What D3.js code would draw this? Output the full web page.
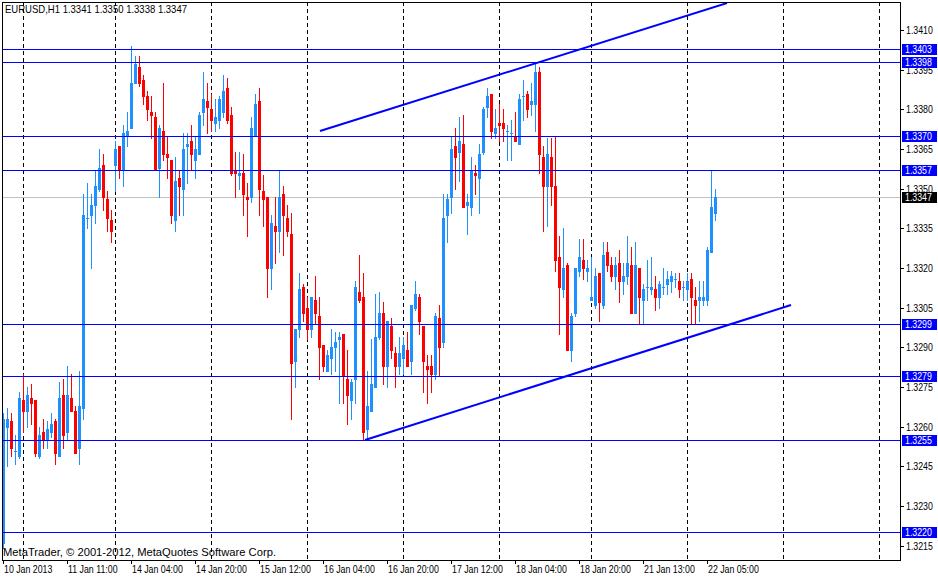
<!DOCTYPE html>
<html><head><meta charset="utf-8">
<script src="https://cdn.jsdelivr.net/npm/d3@7"></script>
<style>
body{margin:0;background:#fff}
svg{display:block}
text{font-family:"Liberation Sans",Arial,sans-serif;font-size:11px}
</style>
</head><body>
<svg id="c" width="938" height="577"></svg>
<script>
const symbolTitle = "EURUSD,H1  1.3341 1.3350 1.3338 1.3347";
const copyright = "MetaTrader, \u00a9 2001-2012, MetaQuotes Software Corp.";

const opens = [1.3216,1.3260,1.3262,1.3251,1.3249,1.3270,1.3266,1.3271,1.3270,1.3249,
1.3258,1.3255,1.3258,1.3262,1.3249,1.3272,1.3258,1.3271,1.3266,1.3252,
1.3267,1.3339,1.3340,1.3344,1.3350,1.3359,1.3346,1.3338,1.3359,1.3366,
1.3357,1.3370,1.3373,1.3390,1.3396,1.3391,1.3385,1.3379,1.3377,1.3358,
1.3372,1.3363,1.3361,1.3338,1.3354,1.3350,1.3366,1.3368,1.3361,1.3363,
1.3379,1.3383,1.3380,1.3375,1.3376,1.3379,1.3388,1.3378,1.3357,1.3355,
1.3356,1.3347,1.3347,1.3370,1.3383,1.3349,1.3347,1.3320,1.3336,1.3334,
1.3348,1.3339,1.3333,1.3285,1.3297,1.3313,1.3305,1.3297,1.3308,1.3302,
1.3291,1.3281,1.3286,1.3290,1.3293,1.3295,1.3278,1.3270,1.3278,1.3311,
1.3309,1.3259,1.3266,1.3275,1.3294,1.3303,1.3283,1.3298,1.3288,1.3283,
1.3286,1.3289,1.3285,1.3305,1.3309,1.3298,1.3283,1.3283,1.3280,1.3301,
1.3292,1.3340,1.3347,1.3366,1.3364,1.3367,1.3344,1.3343,1.3356,1.3354,
1.3364,1.3381,1.3386,1.3371,1.3375,1.3375,1.3372,1.3371,1.3370,1.3367,
1.3385,1.3386,1.3382,1.3382,1.3394,1.3362,1.3351,1.3362,1.3351,1.3324,
1.3312,1.3321,1.3289,1.3303,1.3319,1.3323,1.3319,1.3308,1.3306,1.3318,
1.3306,1.3326,1.3321,1.3317,1.3322,1.3315,1.3317,1.3321,1.3303,1.3320,
1.3308,1.3313,1.3312,1.3312,1.3309,1.3313,1.3314,1.3315,1.3316,1.3315,
1.3313,1.3312,1.3316,1.3308,1.3308,1.3308,1.3308,1.3326,1.3341];

const highs = [1.3265,1.3267,1.3265,1.3257,1.3273,1.3280,1.3275,1.3276,1.3270,1.3260,
1.3263,1.3262,1.3265,1.3263,1.3277,1.3278,1.3283,1.3280,1.3268,1.3281,
1.3348,1.3352,1.3348,1.3357,1.3365,1.3363,1.3349,1.3342,1.3368,1.3366,
1.3374,1.3379,1.3404,1.3400,1.3400,1.3393,1.3387,1.3385,1.3379,1.3374,
1.3390,1.3370,1.3361,1.3362,1.3357,1.3371,1.3371,1.3374,1.3370,1.3379,
1.3394,1.3390,1.3386,1.3384,1.3385,1.3393,1.3392,1.3381,1.3364,1.3364,
1.3363,1.3352,1.3377,1.3386,1.3388,1.3355,1.3347,1.3340,1.3347,1.3357,
1.3351,1.3344,1.3341,1.3297,1.3318,1.3314,1.3309,1.3309,1.3317,1.3309,
1.3291,1.3289,1.3297,1.3296,1.3296,1.3295,1.3289,1.3278,1.3315,1.3325,
1.3318,1.3281,1.3293,1.3310,1.3311,1.3307,1.3300,1.3301,1.3290,1.3294,
1.3294,1.3296,1.3306,1.3315,1.3310,1.3298,1.3287,1.3287,1.3303,1.3306,
1.3348,1.3348,1.3370,1.3373,1.3377,1.3378,1.3348,1.3362,1.3359,1.3367,
1.3381,1.3388,1.3386,1.3380,1.3382,1.3380,1.3374,1.3376,1.3379,1.3386,
1.3391,1.3387,1.3390,1.3397,1.3396,1.3366,1.3369,1.3369,1.3370,1.3332,
1.3335,1.3322,1.3303,1.3320,1.3331,1.3331,1.3323,1.3324,1.3320,1.3318,
1.3330,1.3330,1.3324,1.3324,1.3327,1.3322,1.3332,1.3328,1.3330,1.3320,
1.3314,1.3323,1.3324,1.3317,1.3315,1.3320,1.3319,1.3319,1.3318,1.3318,
1.3315,1.3318,1.3318,1.3313,1.3315,1.3315,1.3328,1.3357,1.3350];

const lows = [1.3214,1.3245,1.3249,1.3246,1.3248,1.3258,1.3260,1.3261,1.3249,1.3248,
1.3252,1.3252,1.3256,1.3246,1.3249,1.3252,1.3255,1.3266,1.3250,1.3246,
1.3263,1.3335,1.3320,1.3337,1.3349,1.3342,1.3334,1.3330,1.3349,1.3354,
1.3351,1.3366,1.3373,1.3390,1.3389,1.3382,1.3376,1.3369,1.3357,1.3347,
1.3361,1.3354,1.3337,1.3334,1.3340,1.3340,1.3352,1.3357,1.3354,1.3363,
1.3374,1.3371,1.3372,1.3372,1.3373,1.3377,1.3375,1.3355,1.3347,1.3350,
1.3340,1.3332,1.3345,1.3370,1.3340,1.3336,1.3309,1.3312,1.3322,1.3326,
1.3325,1.3332,1.3263,1.3275,1.3294,1.3300,1.3293,1.3294,1.3299,1.3278,
1.3281,1.3281,1.3280,1.3281,1.3269,1.3269,1.3261,1.3263,1.3269,1.3307,
1.3255,1.3255,1.3266,1.3275,1.3293,1.3276,1.3275,1.3286,1.3275,1.3280,
1.3280,1.3283,1.3280,1.3304,1.3295,1.3273,1.3269,1.3273,1.3278,1.3279,
1.3290,1.3330,1.3341,1.3350,1.3353,1.3343,1.3333,1.3340,1.3348,1.3341,
1.3363,1.3377,1.3369,1.3369,1.3368,1.3368,1.3361,1.3361,1.3368,1.3367,
1.3376,1.3377,1.3378,1.3372,1.3356,1.3334,1.3336,1.3344,1.3319,1.3295,
1.3309,1.3289,1.3285,1.3302,1.3317,1.3316,1.3315,1.3308,1.3305,1.3300,
1.3305,1.3319,1.3315,1.3312,1.3307,1.3310,1.3314,1.3303,1.3303,1.3299,
1.3299,1.3308,1.3310,1.3304,1.3305,1.3310,1.3310,1.3311,1.3313,1.3309,
1.3308,1.3308,1.3299,1.3299,1.3300,1.3306,1.3306,1.3326,1.3338];

const closes = [1.3263,1.3263,1.3252,1.3251,1.3271,1.3266,1.3272,1.3269,1.3250,1.3257,
1.3255,1.3259,1.3261,1.3250,1.3271,1.3257,1.3272,1.3266,1.3250,1.3268,
1.3340,1.3339,1.3344,1.3351,1.3358,1.3347,1.3339,1.3334,1.3365,1.3357,
1.3371,1.3372,1.3390,1.3397,1.3390,1.3385,1.3380,1.3378,1.3357,1.3373,
1.3363,1.3362,1.3340,1.3353,1.3351,1.3365,1.3367,1.3363,1.3365,1.3378,
1.3384,1.3381,1.3376,1.3377,1.3384,1.3387,1.3376,1.3356,1.3356,1.3356,
1.3348,1.3346,1.3373,1.3382,1.3350,1.3346,1.3320,1.3337,1.3334,1.3347,
1.3340,1.3334,1.3284,1.3297,1.3312,1.3303,1.3297,1.3309,1.3303,1.3290,
1.3283,1.3287,1.3290,1.3292,1.3294,1.3279,1.3272,1.3277,1.3313,1.3308,
1.3258,1.3268,1.3276,1.3294,1.3303,1.3283,1.3300,1.3289,1.3283,1.3288,
1.3291,1.3283,1.3306,1.3310,1.3300,1.3285,1.3282,1.3280,1.3302,1.3290,
1.3339,1.3346,1.3365,1.3362,1.3368,1.3343,1.3345,1.3357,1.3355,1.3363,
1.3380,1.3385,1.3372,1.3373,1.3374,1.3373,1.3372,1.3371,1.3368,1.3384,
1.3385,1.3380,1.3383,1.3394,1.3363,1.3351,1.3363,1.3351,1.3323,1.3313,
1.3320,1.3289,1.3302,1.3320,1.3324,1.3320,1.3320,1.3309,1.3317,1.3307,
1.3325,1.3321,1.3317,1.3321,1.3315,1.3317,1.3322,1.3303,1.3321,1.3309,
1.3312,1.3313,1.3313,1.3309,1.3314,1.3313,1.3316,1.3317,1.3316,1.3312,
1.3313,1.3315,1.3309,1.3306,1.3309,1.3309,1.3327,1.3343,1.3347];

const timeLabels = ["10 Jan 2013","11 Jan 11:00","14 Jan 04:00","14 Jan 20:00","15 Jan 12:00","16 Jan 04:00",
  "16 Jan 20:00","17 Jan 12:00","18 Jan 04:00","18 Jan 20:00","21 Jan 13:00","22 Jan 05:00"];
const timeLabelBars = [0,16,32,48,64,80,96,112,128,144,160,176];
const dayStartBars = [5,28,52,76,100,124,147,171,195,219];
const priceTicks = [1.3410,1.3395,1.3380,1.3365,1.3350,1.3335,1.3320,1.3305,1.3290,1.3275,1.3260,1.3245,1.3230,1.3215];
const levelPrices = [1.3403,1.3398,1.3370,1.3357,1.3299,1.3279,1.3255,1.3220];
const currentPrice = 1.3347;
const trendUpper = [[79.25,1.33718],[181,1.34202]];
const trendLower = [[90.5,1.3255],[197,1.3306]];

const W = 938, H = 577;
const L = 2, R = 900, T = 2, B = 560;
const svg = d3.select("#c");
const x = d3.scaleLinear().domain([0,224]).range([3,899]);
const y = d3.scaleLinear().domain([1.32096,1.34206]).range([B,T]);
const px = i => Math.round(x(i));
const py = p => Math.round(y(p));
const fmt = d3.format(".4f");
const BULL = "#1E90FF", BEAR = "#FF0000", LINEC = "#0000FF";
const SX = 0.8;

svg.append("rect").attr("width",W).attr("height",H).attr("fill","#fff");
svg.append("clipPath").attr("id","clip").append("rect").attr("x",L+1).attr("y",T+1).attr("width",R-L-1).attr("height",B-T-1);
const plot = svg.append("g").attr("clip-path","url(#clip)");

// vertical day grid
plot.append("g").selectAll("line").data(dayStartBars).join("line")
  .attr("x1",d=>px(d)+0.5).attr("x2",d=>px(d)+0.5).attr("y1",T).attr("y2",B)
  .attr("stroke","#000").attr("stroke-width",1).attr("stroke-dasharray","4,3");

// header / footer text
svg.append("text").attr("x",5).attr("y",13).attr("textLength",182).attr("lengthAdjust","spacingAndGlyphs").text(symbolTitle);
svg.append("text").attr("x",3).attr("y",556).attr("textLength",273).attr("lengthAdjust","spacingAndGlyphs").text(copyright);

// current price line
plot.append("line").attr("x1",L).attr("x2",R).attr("y1",py(currentPrice)+0.5).attr("y2",py(currentPrice)+0.5)
  .attr("stroke","#C0C0C0").attr("stroke-width",1);

// candles
const bars = d3.range(opens.length).map(i=>({i,o:opens[i],h:highs[i],l:lows[i],c:closes[i]}));
const cg = plot.append("g").attr("shape-rendering","crispEdges");
const cand = cg.selectAll("g").data(bars).join("g").attr("fill",d=>d.c>=d.o?BULL:BEAR);
cand.append("rect").attr("x",d=>px(d.i)).attr("width",1)
  .attr("y",d=>py(d.h)).attr("height",d=>py(d.l)-py(d.h)+1);
cand.append("rect").attr("x",d=>px(d.i)-1).attr("width",3)
  .attr("y",d=>Math.min(py(d.o),py(d.c))).attr("height",d=>Math.abs(py(d.o)-py(d.c))+1);

// horizontal levels
plot.append("g").selectAll("line").data(levelPrices).join("line")
  .attr("x1",L).attr("x2",R).attr("y1",d=>py(d)+0.5).attr("y2",d=>py(d)+0.5)
  .attr("stroke",LINEC).attr("stroke-width",1).attr("shape-rendering","crispEdges");

// trend lines
const lineGen = d3.line().x(d=>x(d[0])).y(d=>y(d[1]));
plot.append("path").attr("d",lineGen(trendUpper)).attr("stroke",LINEC).attr("stroke-width",2).attr("fill","none");
plot.append("path").attr("d",lineGen(trendLower)).attr("stroke",LINEC).attr("stroke-width",2).attr("fill","none");

// frame
svg.append("rect").attr("x",L+0.5).attr("y",T+0.5).attr("width",R-L).attr("height",B-T)
  .attr("fill","none").attr("stroke","#000").attr("shape-rendering","crispEdges");

// right axis
const ra = svg.append("g");
ra.selectAll("line").data(priceTicks).join("line")
  .attr("x1",R).attr("x2",R+4).attr("y1",d=>py(d)+0.5).attr("y2",d=>py(d)+0.5)
  .attr("stroke","#000").attr("shape-rendering","crispEdges");
ra.selectAll("text").data(priceTicks).join("text")
  .attr("transform",d=>`translate(906,${py(d)+4}) scale(${SX},1)`).text(fmt);

// level labels
const lb = svg.append("g").selectAll("g").data(levelPrices).join("g");
lb.append("rect").attr("x",902).attr("y",d=>py(d)-5).attr("width",35).attr("height",11).attr("fill",LINEC);
lb.append("text").attr("fill","#fff").attr("transform",d=>`translate(905,${py(d)+4}) scale(${SX},1)`).text(fmt);
const cp = svg.append("g");
cp.append("rect").attr("x",902).attr("y",py(currentPrice)-5).attr("width",35).attr("height",11).attr("fill","#000");
cp.append("text").attr("fill","#fff").attr("transform",`translate(905,${py(currentPrice)+4}) scale(${SX},1)`).text(fmt(currentPrice));

// bottom axis
const ba = svg.append("g");
ba.selectAll("line").data(timeLabelBars).join("line")
  .attr("x1",d=>px(d)+0.5).attr("x2",d=>px(d)+0.5).attr("y1",B).attr("y2",B+4)
  .attr("stroke","#000").attr("shape-rendering","crispEdges");
ba.selectAll("text").data(timeLabels).join("text")
  .attr("transform",(d,k)=>`translate(${px(timeLabelBars[k])+1},573) scale(${SX},1)`).text(d=>d);
</script>
</body></html>
